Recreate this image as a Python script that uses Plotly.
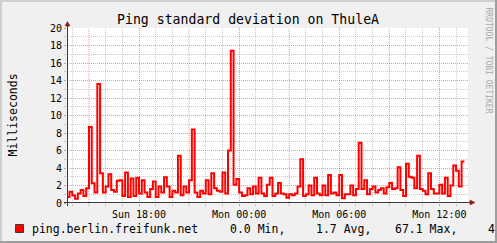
import plotly.graph_objects as go
import pandas as pd

# ---------------- data ----------------
title_text = "Ping standard deviation on ThuleA"
y_title = "Milliseconds"
series_name = "ping.berlin.freifunk.net"
start_time = "2023-01-01 13:40"
step = "10min"
range_start = "2023-01-01 13:41"
range_end = "2023-01-02 13:43"

values = [
    0.7, 1.3, 0.85, 0.5, 1.1, 1.5, 0.8, 1.7, 8.7, 2.25,
    1.2, 13.6, 3.4, 1.2, 1.9, 3.3, 1.5, 1.3, 2.55, 2.6,
    0.8, 3.5, 0.7, 2.8, 0.8, 2.9, 1.1, 2.6, 1.2, 0.7,
    1.6, 2.45, 0.7, 1.9, 1.2, 2.95, 1.9, 0.7, 1.4, 1.2,
    5.4, 0.9, 1.9, 1.2, 2.6, 8.4, 1.2, 0.7, 1.4, 1.1,
    2.6, 1.0, 3.4, 1.7, 1.4, 1.3, 3.5, 1.1, 6.0, 17.4,
    2.1, 2.75, 1.2, 0.8, 0.9, 1.7, 1.0, 1.9, 1.1, 2.9,
    1.1, 0.8, 2.1, 2.9, 0.8, 1.1, 2.3, 1.1, 1.0, 0.6,
    1.0, 0.9, 1.1, 1.9, 5.0, 0.8, 1.0, 2.0, 0.9, 2.9,
    1.1, 0.9, 2.0, 0.9, 3.2, 1.1, 1.2, 0.9, 3.2, 0.55,
    1.0, 1.0, 2.0, 0.9, 1.6, 6.9, 1.6, 2.6, 1.0, 1.6,
    1.9, 1.2, 1.5, 1.7, 1.1, 1.8, 2.3, 1.6, 1.7, 4.1,
    1.5, 0.8, 4.5, 3.0, 2.9, 1.7, 5.4, 1.6, 1.4, 1.0,
    3.4, 1.6, 1.1, 1.1, 2.1, 1.1, 2.9, 0.8, 2.0, 4.3,
    3.7, 1.9, 4.75,
]

x_tick_vals = ["2023-01-01 18:00", "2023-01-02 00:00", "2023-01-02 06:00", "2023-01-02 12:00"]
x_tick_text = ["Sun 18:00", "Mon 00:00", "Mon 06:00", "Mon 12:00"]
major_grid_times = ["2023-01-01 15:00", "2023-01-01 21:00", "2023-01-02 03:00", "2023-01-02 09:00"]
hour_ticks = [t.strftime("%Y-%m-%d %H:%M") for t in pd.date_range("2023-01-01 14:00", "2023-01-02 13:00", freq="1h")]

y_range = [0, 20]
stat_labels = ["0.0 Min,", "1.7 Avg,", "67.1 Max,", "4.7 Last"]
watermark = "RRDTOOL / TOBI OETIKER"

# ---------------- geometry helpers ----------------
W, H = 497, 243
L, R, T, B = 67, 29, 28, 40
PW, PH = W - L - R, H - T - B


def px(x):
    return (x - L) / PW


def py(y):
    return (H - B - y) / PH


MONO = "DejaVu Sans Mono"
GRID = "rgba(140,140,140,0.45)"
MGRID = "rgba(200,60,60,0.5)"
DOT = "1px,1px"

times = list(pd.date_range(start_time, periods=len(values), freq=step))
times_ext = times + [times[-1] + pd.Timedelta(step)]
vals_ext = values + [values[-1]]

fig = go.Figure()
fig.add_trace(go.Scatter(
    x=times_ext, y=vals_ext, mode="lines", line=dict(color="#FF0000", width=2, shape="hv"),
    name=series_name, showlegend=False, hoverinfo="skip",
))

shapes = []
# major vertical grid lines
for t in major_grid_times:
    shapes.append(dict(type="line", xref="x", yref="paper", x0=t, x1=t, y0=-3 / PH, y1=1,
                       line=dict(color=MGRID, width=1, dash=DOT), layer="below"))

# axis lines
shapes.append(dict(type="line", xref="paper", yref="paper", x0=px(67.5), x1=px(67.5), y0=py(206), y1=py(24),
                   line=dict(color="#3a3a3a", width=1)))
shapes.append(dict(type="line", xref="paper", yref="paper", x0=px(64), x1=px(471), y0=py(202.5), y1=py(202.5),
                   line=dict(color="#3a3a3a", width=1)))
# arrows
shapes.append(dict(type="path", xref="paper", yref="paper",
                   path=f"M {px(65)},{py(26)} L {px(70)},{py(26)} L {px(67.5)},{py(21.5)} Z",
                   fillcolor="#8b1a1a", line=dict(color="#8b1a1a", width=0.5)))
shapes.append(dict(type="path", xref="paper", yref="paper",
                   path=f"M {px(470)},{py(200)} L {px(470)},{py(205)} L {px(475)},{py(202.5)} Z",
                   fillcolor="#8b1a1a", line=dict(color="#8b1a1a", width=0.5)))
# 3D frame
shapes.append(dict(type="rect", xref="paper", yref="paper", x0=px(0), x1=px(W), y0=py(0), y1=py(2),
                   fillcolor="#CFCFCF", line=dict(width=0)))
shapes.append(dict(type="rect", xref="paper", yref="paper", x0=px(0), x1=px(2), y0=py(0), y1=py(H),
                   fillcolor="#CFCFCF", line=dict(width=0)))
shapes.append(dict(type="rect", xref="paper", yref="paper", x0=px(0), x1=px(W), y0=py(H - 2), y1=py(H),
                   fillcolor="#9E9E9E", line=dict(width=0)))
shapes.append(dict(type="rect", xref="paper", yref="paper", x0=px(W - 2), x1=px(W), y0=py(0), y1=py(H),
                   fillcolor="#9E9E9E", line=dict(width=0)))
# legend swatch
shapes.append(dict(type="rect", xref="paper", yref="paper", x0=px(15.5), x1=px(23.5), y0=py(224.5), y1=py(232.5),
                   fillcolor="#FF0000", line=dict(color="#3a3a3a", width=1)))

annotations = []
annotations.append(dict(text=title_text, xref="paper", yref="paper", x=px(248), y=py(19.5),
                        xanchor="center", yanchor="middle", showarrow=False,
                        font=dict(family=MONO, size=13.2, color="#000")))
annotations.append(dict(text=y_title, xref="paper", yref="paper", x=px(12), y=py(115.5),
                        xanchor="center", yanchor="middle", textangle=-90, showarrow=False,
                        font=dict(family=MONO, size=11.5, color="#000")))
annotations.append(dict(text=series_name, xref="paper", yref="paper", x=px(30), y=py(229),
                        xanchor="left", yanchor="middle", showarrow=False,
                        font=dict(family=MONO, size=11.5, color="#000")))
for lbl, xpos in zip(stat_labels, [228, 314, 392.5, 486]):
    annotations.append(dict(text=lbl, xref="paper", yref="paper", x=px(xpos), y=py(229),
                            xanchor="left", yanchor="middle", showarrow=False,
                            font=dict(family=MONO, size=11.5, color="#000")))
annotations.append(dict(text=watermark, xref="paper", yref="paper", x=px(488.5), y=py(60),
                        xanchor="center", yanchor="middle", textangle=90, showarrow=False,
                        font=dict(family=MONO, size=8, color="#a8a8a8")))

fig.update_layout(
    width=W, height=H,
    margin=dict(l=L, r=R, t=T, b=B, pad=0),
    paper_bgcolor="#F0F0F0", plot_bgcolor="#FFFFFF",
    showlegend=False,
    shapes=shapes, annotations=annotations,
    xaxis=dict(
        type="date", range=[range_start, range_end],
        tickmode="array", tickvals=x_tick_vals, ticktext=x_tick_text,
        showgrid=True, gridcolor=GRID, griddash=DOT, gridwidth=1,
        ticks="outside", ticklen=2, tickcolor=GRID,
        minor=dict(tickmode="array", tickvals=[h for h in hour_ticks if h not in major_grid_times],
                   showgrid=True, gridcolor=GRID, griddash=DOT, gridwidth=1,
                   ticks="outside", ticklen=2, tickcolor=GRID),
        tickfont=dict(family=MONO, size=10, color="#000"),
        showline=False, zeroline=False, fixedrange=True,
    ),
    yaxis=dict(
        range=y_range, tickmode="linear", tick0=0, dtick=2,
        showgrid=True, gridcolor=MGRID, griddash=DOT, gridwidth=1,
        ticks="outside", ticklen=2, tickcolor=MGRID,
        minor=dict(dtick=1, showgrid=True, gridcolor=GRID, griddash=DOT, gridwidth=1,
                   ticks="outside", ticklen=2, tickcolor=GRID),
        tickfont=dict(family=MONO, size=10, color="#000"),
        showline=False, zeroline=False, fixedrange=True,
    ),
)

fig.write_html("out.html", config={"displayModeBar": False})
